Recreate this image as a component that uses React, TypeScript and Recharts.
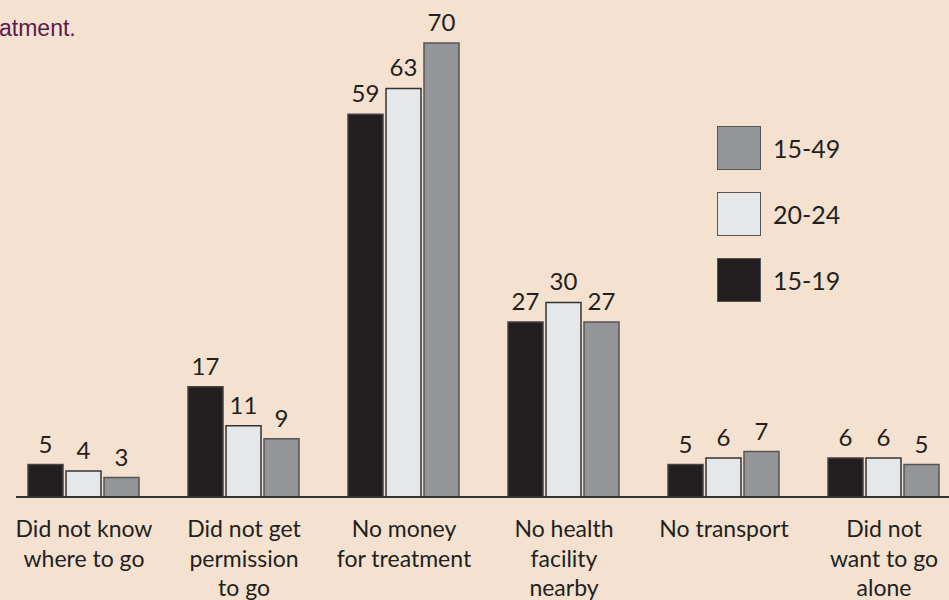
import React from "react";
import { BarChart, Bar, XAxis, YAxis, LabelList } from "recharts";

// Reasons for not seeking treatment, percent by age group
const reasons = [
  "Did not know|where to go",
  "Did not get|permission|to go",
  "No money|for treatment",
  "No health|facility|nearby",
  "No transport",
  "Did not|want to go|alone",
];
const age15to19 = [5, 17, 59, 27, 5, 6];
const age20to24 = [4, 11, 63, 30, 6, 6];
const age15to49 = [3, 9, 70, 27, 7, 5];

const BG = "#F4E1CF";
const INK = "#231F20";
const FONT = "Lato, 'Open Sans', sans-serif";

const data = reasons.map((name, i) => ({
  name,
  a: age15to19[i],
  b: age20to24[i],
  c: age15to49[i],
}));

const legendItems = [
  { label: "15-49", color: "#939598" },
  { label: "20-24", color: "#E6E7E8" },
  { label: "15-19", color: INK },
];

const CategoryTick = (props: any) => {
  const { x, y, payload } = props;
  const lines: string[] = String(payload.value).split("|");
  return (
    <text
      x={x}
      y={y}
      textAnchor="middle"
      fill={INK}
      fontFamily={FONT}
      fontSize={23}
    >
      {lines.map((line, i) => (
        <tspan key={i} x={x} dy={i === 0 ? 32 : 29.5}>
          {line}
        </tspan>
      ))}
    </text>
  );
};

const AgeLegend = () => (
  <div style={{ position: "absolute", left: 717, top: 126 }}>
    {legendItems.map((item) => (
      <div
        key={item.label}
        style={{ display: "flex", alignItems: "center", height: 44, marginBottom: 22 }}
      >
        <div
          style={{
            width: 42,
            height: 42,
            background: item.color,
            border: "1.5px solid #555",
          }}
        />
        <span
          style={{
            marginLeft: 12,
            fontFamily: FONT,
            fontSize: 25,
            color: INK,
          }}
        >
          {item.label}
        </span>
      </div>
    ))}
  </div>
);

export default function App() {
  const labelStyle = { fill: INK, fontFamily: FONT, fontSize: 24 };
  return (
    <div
      style={{
        position: "fixed",
        left: 0,
        top: 0,
        width: 949,
        height: 600,
        overflow: "hidden",
        background: BG,
      }}
    >
      <div
        style={{
          position: "absolute",
          left: -1,
          top: 15,
          fontFamily: "'Liberation Sans', Arial, sans-serif",
          fontSize: 23,
          color: "#5B1A4C",
        }}
      >
        atment.
      </div>
      <BarChart
        width={964}
        height={600}
        data={data}
        margin={{ top: 43, right: 0, bottom: 73, left: 16 }}
        barCategoryGap={24}
        barGap={3}
      >
        <YAxis hide domain={[0, 70]} />
        <XAxis
          dataKey="name"
          padding={{ left: -12, right: 0 }}
          axisLine={{ stroke: "#333", strokeWidth: 2 }}
          tickLine={false}
          tick={<CategoryTick />}
          interval={0}
        />
        <Bar dataKey="a" fill={INK} stroke="#444" strokeWidth={1.5} isAnimationActive={false}>
          <LabelList dataKey="a" position="top" offset={12} style={labelStyle} />
        </Bar>
        <Bar dataKey="b" fill="#E6E7E8" stroke="#333" strokeWidth={1.5} isAnimationActive={false}>
          <LabelList dataKey="b" position="top" offset={12} style={labelStyle} />
        </Bar>
        <Bar dataKey="c" fill="#939598" stroke="#555" strokeWidth={1.5} isAnimationActive={false}>
          <LabelList dataKey="c" position="top" offset={12} style={labelStyle} />
        </Bar>
      </BarChart>
      <AgeLegend />
    </div>
  );
}
